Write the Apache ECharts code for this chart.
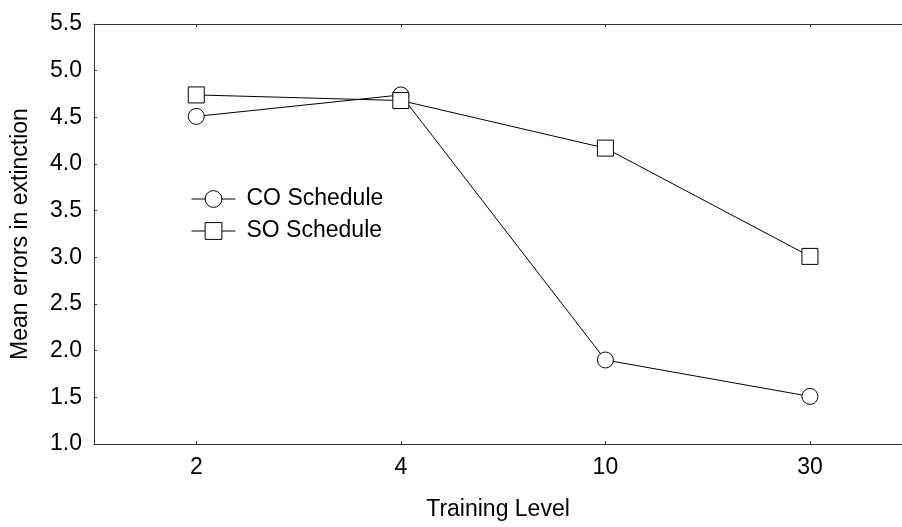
<!DOCTYPE html>
<html>
<head>
<meta charset="utf-8">
<script src="https://cdn.jsdelivr.net/npm/echarts@6/dist/echarts.min.js"></script>
<style>html,body{margin:0;padding:0;background:#fff;}#c{width:902px;height:527px;}</style>
</head>
<body>
<div id="c"></div>
<script>
const categories = ['2', '4', '10', '30'];
const coValues = [4.51, 4.74, 1.90, 1.51];
const soValues = [4.74, 4.68, 4.17, 3.01];
const seriesNames = ['CO Schedule', 'SO Schedule'];

const catIdx = categories.map((c, i) => i);
const font = 'Liberation Sans, Arial, sans-serif';
const FS = 23;
const chart = echarts.init(document.getElementById('c'), null, {renderer: 'canvas'});

function mk(name, vals, symbol) {
  return {
    name: name, type: 'line', xAxisIndex: 0, yAxisIndex: 0,
    data: vals.map((v, i) => [catIdx[i], v]),
    symbol: symbol, symbolSize: 16,
    lineStyle: {color: '#000', width: 1},
    itemStyle: {color: '#fff', borderColor: '#000', borderWidth: 1},
    emphasis: {disabled: true}, animation: false, z: 3
  };
}

chart.setOption({
  animation: false,
  grid: {left: 94, right: 0, top: 24, bottom: 83, containLabel: false},
  legend: {
    orient: 'vertical', left: 186, top: 181, itemWidth: 44, itemHeight: 21, itemGap: 6,
    itemStyle: {borderWidth: 1, borderColor: '#000', color: '#fff'},
    lineStyle: {width: 1, color: '#000'},
    textStyle: {fontFamily: font, fontSize: FS, color: '#000', padding: [0,0,0,6], lineHeight: 26},
    data: seriesNames
  },
  xAxis: [{
    type: 'value', position: 'bottom', min: -0.5, max: 3.45,
    name: 'Training Level', nameLocation: 'middle', nameGap: 54,
    nameTextStyle: {fontFamily: font, fontSize: FS, color: '#000'},
    axisLine: {show: true, onZero: false, lineStyle: {color: '#333', width: 1}},
    axisTick: {show: true, inside: true, length: 3, customValues: catIdx, lineStyle: {color: '#333'}},
    axisLabel: {show: true, customValues: catIdx, formatter: v => categories[Math.round(v)], fontFamily: font, fontSize: FS, color: '#000', margin: 12},
    splitLine: {show: false}
  }, {
    type: 'value', position: 'top', min: -0.5, max: 3.45,
    axisLine: {show: true, onZero: false, lineStyle: {color: '#333', width: 1}},
    axisTick: {show: true, inside: true, length: 3, customValues: catIdx, lineStyle: {color: '#333'}},
    axisLabel: {show: false},
    splitLine: {show: false}
  }],
  yAxis: {
    type: 'value', min: 1.0, max: 5.5, interval: 0.5,
    name: 'Mean errors in extinction', nameLocation: 'middle', nameGap: 62, nameRotate: 90,
    nameTextStyle: {fontFamily: font, fontSize: FS, color: '#000'},
    axisLine: {show: true, onZero: false, lineStyle: {color: '#333', width: 1}},
    axisTick: {show: true, inside: true, length: 3, lineStyle: {color: '#333'}},
    axisLabel: {formatter: v => v.toFixed(1), fontFamily: font, fontSize: FS, color: '#000', margin: 12},
    splitLine: {show: false}
  },
  series: [mk(seriesNames[0], coValues, 'circle'), mk(seriesNames[1], soValues, 'rect')]
});
</script>
</body>
</html>
